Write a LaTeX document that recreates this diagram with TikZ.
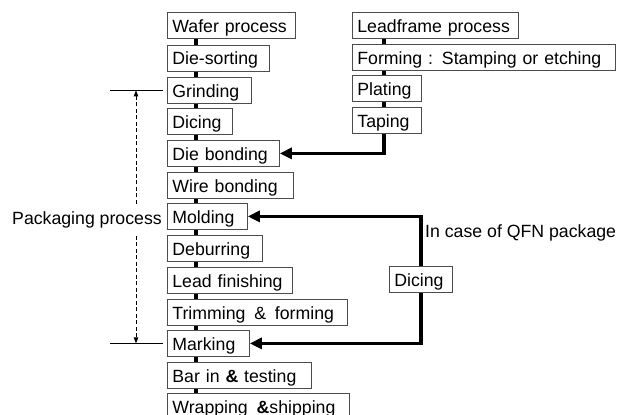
\documentclass[tikz,border=0pt]{standalone}
\usepackage{fontspec}
\setmainfont{Liberation Sans}
\usetikzlibrary{arrows.meta,backgrounds}
\begin{document}
\begin{tikzpicture}[x=1pt,y=-1pt,
  procbox/.style={draw=black!70, line width=0.8pt, fill=white, anchor=north west,
    inner xsep=5pt, inner ysep=0pt, text height=20pt, text depth=6pt, align=left,
    font=\fontsize{17.7pt}{20pt}\selectfont},
  plainlabel/.style={inner xsep=0pt, inner ysep=7.5pt, font=\fontsize{17.7pt}{20pt}\selectfont},
  flow/.style={line width=3.3pt, line join=miter},
  feed/.style={line width=3.3pt, line join=miter, -{Triangle[length=12pt,width=11pt]}},
  tickline/.style={line width=0.8pt},
  dasharrow/.style={line width=0.9pt, dash pattern=on 4pt off 2.5pt, -{Triangle[length=6pt,width=4.5pt]}}
]
\clip (0,0) rectangle (619,415);

% left column
\node[procbox, text width=118pt] (wafer) at (167,12) {\mbox{Wafer process}};
\node[procbox, text width=92pt] (diesort) at (167,44.5) {\mbox{Die-sorting}};
\node[procbox, text width=74pt] (grind) at (167,77) {\mbox{Grinding}};
\node[procbox, text width=55pt] (dicing) at (167,108) {\mbox{Dicing}};
\node[procbox, text width=102pt] (diebond) at (167,140) {\mbox{Die bonding}};
\node[procbox, text width=116pt] (wirebond) at (167,172) {\mbox{Wire bonding}};
\node[procbox, text width=70pt] (molding) at (167,203) {\mbox{Molding}};
\node[procbox, text width=85pt] (deburr) at (167,235) {\mbox{Deburring}};
\node[procbox, text width=115pt] (leadfin) at (167,267) {\mbox{Lead finishing}};
\node[procbox, text width=170pt] (trim) at (167,299) {\mbox{Trimming \,\&\, forming}};
\node[procbox, text width=72pt] (marking) at (167,330) {\mbox{Marking}};
\node[procbox, text width=134pt] (barin) at (167,362) {\mbox{Bar in \textbf{\&} testing}};
\node[procbox, text width=172pt] (wrap) at (167,393) {\mbox{Wrapping \,\textbf{\&}shipping}};

% right column
\node[procbox, text width=156pt] (leadframe) at (352,12) {\mbox{Leadframe process}};
\node[procbox, text width=253pt] (forming) at (352,44) {\mbox{Forming : Stamping or etching}};
\node[procbox, text width=59pt] (plating) at (352,75) {\mbox{Plating}};
\node[procbox, text width=59pt] (taping) at (352,107) {\mbox{Taping}};

% QFN branch
\node[procbox, text width=53pt] (qfndicing) at (389,266) {\mbox{Dicing}};
\node[plainlabel, anchor=base west] (qfnlabel) at (425,237.5) {In case of QFN package};

% packaging process label
\node[plainlabel, anchor=base west] (pkg) at (12,224.5) {Packaging process};

\coordinate (lspine) at (196,0);
\coordinate (rspine) at (384,0);
\coordinate (qfnx) at (421,0);
\coordinate (tickx) at (110,0);
\coordinate (dashx) at (136,0);

\begin{scope}[on background layer]
  \fill[white] (0,0) rectangle (619,415);
  \foreach \a/\b in {wafer/diesort, diesort/grind, grind/dicing, dicing/diebond,
                     diebond/wirebond, wirebond/molding, molding/deburr, deburr/leadfin,
                     leadfin/trim, trim/marking, marking/barin, barin/wrap}
    \draw[flow] (\a.south -| lspine) -- (\b.north -| lspine);
  \foreach \a/\b in {leadframe/forming, forming/plating, plating/taping}
    \draw[flow] (\a.south -| rspine) -- (\b.north -| rspine);
  \draw[feed] (taping.south -| rspine) |- (diebond.east);
  \draw[line width=3.3pt, line join=miter,
        {Triangle[length=12pt,width=11pt]}-{Triangle[length=12pt,width=11pt]}]
    (molding.east) -- (molding.east -| qfnx) -- (marking.east -| qfnx) -- (marking.east);
\end{scope}

% packaging range
\draw[tickline] (tickx |- grind.west) -- ([xshift=-4pt]grind.west);
\draw[tickline] (tickx |- marking.west) -- ([xshift=-4pt]marking.west);
\draw[dasharrow] (pkg.north -| dashx) -- (dashx |- grind.west);
\draw[dasharrow] (pkg.south -| dashx) -- (dashx |- marking.west);
\end{tikzpicture}
\end{document}
